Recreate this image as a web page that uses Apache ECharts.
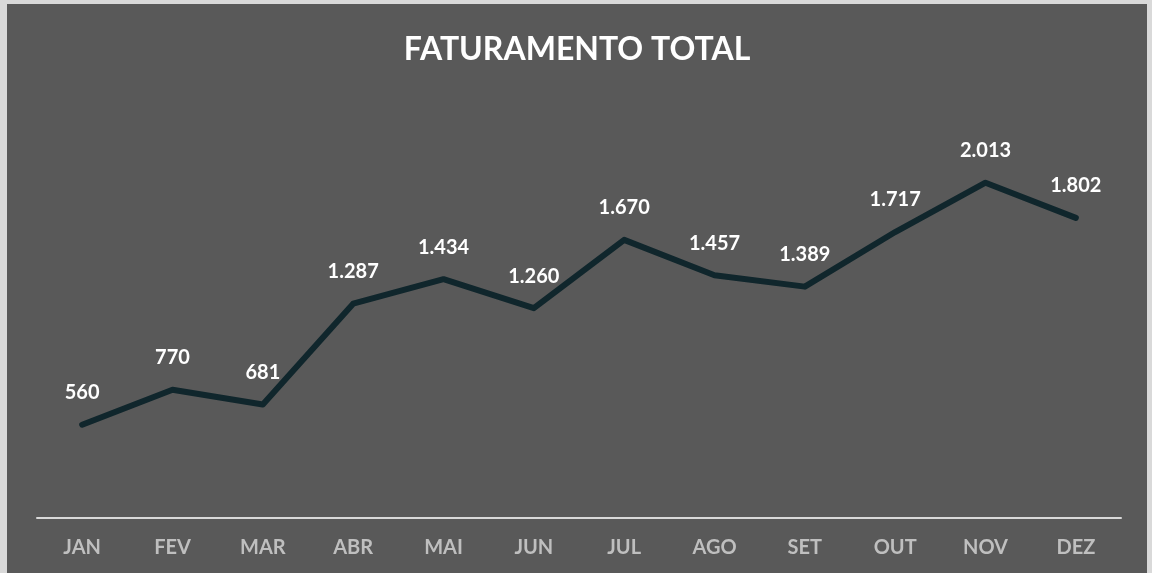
<!DOCTYPE html>
<html>
<head>
<meta charset="utf-8">
<script src="https://cdn.jsdelivr.net/npm/echarts@6/dist/echarts.min.js"></script>
<style>
  html, body { margin: 0; padding: 0; background: #d9d9d9; }
  #chart { position: absolute; left: 7px; top: 4px; width: 1140px; height: 569px; }
</style>
</head>
<body>
<div id="chart"></div>
<script>
  // meses e valores do faturamento
  let meses = ['JAN','FEV','MAR','ABR','MAI','JUN','JUL','AGO','SET','OUT','NOV','DEZ'];
  let faturamento = [560, 770, 681, 1287, 1434, 1260, 1670, 1457, 1389, 1717, 2013, 1802];

  function fmt(v){
    return String(v).replace(/\B(?=(\d{3})+(?!\d))/g, '.');
  }

  let chart = echarts.init(document.getElementById('chart'));
  chart.setOption({
    backgroundColor: '#595959',
    title: {
      text: 'FATURAMENTO TOTAL',
      left: 'center',
      top: 25,
      textStyle: { color: '#ffffff', fontSize: 32, fontWeight: 'bold', fontFamily: 'Lato' }
    },
    grid: { left: 30, right: 26, top: 97.6, bottom: 55, containLabel: false },
    xAxis: {
      type: 'category',
      data: meses,
      boundaryGap: true,
      axisLine: { lineStyle: { color: '#d9d9d9', width: 2 } },
      axisTick: { show: false },
      axisLabel: { color: '#bfbfbf', fontSize: 20, fontWeight: 'bold', fontFamily: 'Lato', margin: 20 }
    },
    yAxis: {
      type: 'value',
      min: 0,
      max: 2500,
      show: false,
      splitLine: { show: false }
    },
    series: [{
      name: 'Faturamento',
      type: 'line',
      data: faturamento,
      symbol: 'circle',
      symbolSize: 0,
      showSymbol: true,
      itemStyle: { color: '#10262c' },
      lineStyle: { color: '#10262c', width: 6, cap: 'round', join: 'round' },
      label: {
        show: true,
        position: 'top',
        distance: 22,
        color: '#ffffff',
        fontSize: 20,
        fontWeight: 'bold',
        fontFamily: 'Lato',
        formatter: p => fmt(p.value)
      }
    }]
  });
</script>
</body>
</html>
